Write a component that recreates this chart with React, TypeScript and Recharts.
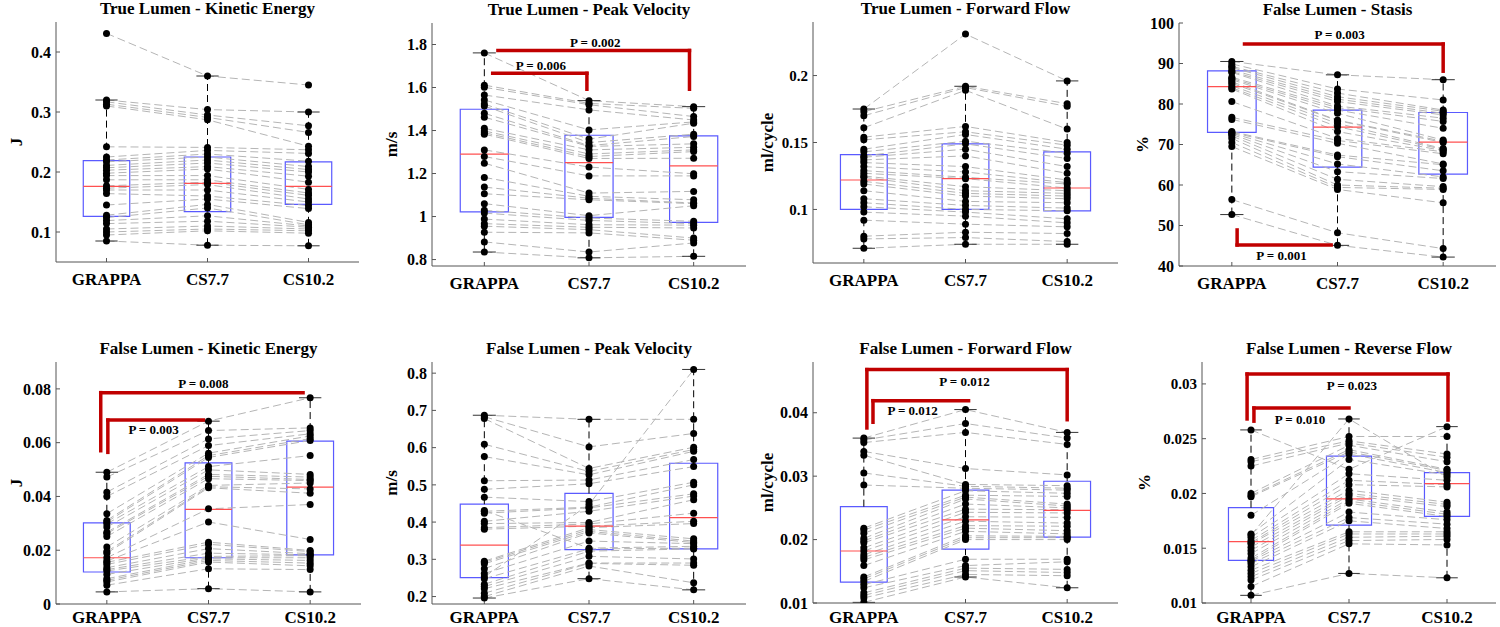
import React from "react";
import {
  ComposedChart,
  Line,
  Scatter,
  XAxis,
  YAxis,
  ReferenceArea,
  ReferenceLine,
  ReferenceDot,
} from "recharts";

const FONT = "'Liberation Serif', 'Times New Roman', serif";
const groups = ["GRAPPA", "CS7.7", "CS10.2"];

// True Lumen - Kinetic Energy (J)
const tlKeGrappa = [0.431, 0.32, 0.317, 0.313, 0.31, 0.242, 0.225, 0.22, 0.217, 0.211, 0.207, 0.203, 0.198, 0.194, 0.187, 0.177, 0.173, 0.17, 0.164, 0.145, 0.128, 0.124, 0.119, 0.114, 0.105, 0.1, 0.095, 0.085];
const tlKeCs77 = [0.36, 0.304, 0.295, 0.291, 0.287, 0.241, 0.236, 0.23, 0.225, 0.22, 0.215, 0.209, 0.205, 0.194, 0.187, 0.183, 0.179, 0.17, 0.16, 0.155, 0.146, 0.14, 0.127, 0.118, 0.11, 0.105, 0.102, 0.078];
const tlKeCs102 = [0.345, 0.3, 0.277, 0.266, 0.243, 0.237, 0.231, 0.218, 0.209, 0.204, 0.2, 0.193, 0.183, 0.171, 0.165, 0.161, 0.155, 0.15, 0.144, 0.139, 0.116, 0.112, 0.11, 0.108, 0.105, 0.102, 0.098, 0.077];
const tlKeBox = [[0.126, 0.176, 0.219], [0.134, 0.181, 0.225], [0.146, 0.176, 0.217]];

// True Lumen - Peak Velocity (m/s)
const tlPvGrappa = [1.761, 1.611, 1.601, 1.565, 1.542, 1.523, 1.514, 1.48, 1.462, 1.41, 1.398, 1.39, 1.383, 1.31, 1.279, 1.248, 1.182, 1.137, 1.106, 1.06, 1.029, 1.016, 0.988, 0.967, 0.955, 0.927, 0.882, 0.835];
const tlPvCs77 = [1.539, 1.526, 1.52, 1.496, 1.403, 1.36, 1.344, 1.33, 1.326, 1.31, 1.291, 1.279, 1.27, 1.23, 1.189, 1.109, 1.094, 1.085, 1.078, 1.004, 0.993, 0.982, 0.962, 0.95, 0.939, 0.924, 0.835, 0.808];
const tlPvCs102 = [1.511, 1.503, 1.465, 1.449, 1.44, 1.434, 1.383, 1.372, 1.338, 1.322, 1.31, 1.302, 1.271, 1.199, 1.189, 1.117, 1.078, 1.063, 1.06, 1.05, 0.978, 0.967, 0.96, 0.947, 0.9, 0.89, 0.877, 0.815];
const tlPvBox = [[1.022, 1.29, 1.499], [0.996, 1.251, 1.378], [0.973, 1.236, 1.375]];

// True Lumen - Forward Flow (ml/cycle)
const tlFfGrappa = [0.175, 0.173, 0.17, 0.161, 0.154, 0.152, 0.145, 0.143, 0.14, 0.139, 0.137, 0.135, 0.132, 0.129, 0.127, 0.125, 0.124, 0.121, 0.119, 0.114, 0.108, 0.105, 0.102, 0.098, 0.092, 0.08, 0.078, 0.071];
const tlFfCs77 = [0.231, 0.192, 0.191, 0.189, 0.162, 0.158, 0.156, 0.151, 0.149, 0.145, 0.14, 0.132, 0.128, 0.124, 0.123, 0.117, 0.114, 0.112, 0.11, 0.106, 0.103, 0.1, 0.098, 0.095, 0.089, 0.083, 0.079, 0.074];
const tlFfCs102 = [0.196, 0.179, 0.177, 0.16, 0.15, 0.148, 0.145, 0.142, 0.138, 0.132, 0.127, 0.122, 0.12, 0.119, 0.116, 0.114, 0.112, 0.11, 0.108, 0.105, 0.101, 0.099, 0.093, 0.09, 0.087, 0.082, 0.076, 0.074];
const tlFfBox = [[0.1, 0.122, 0.141], [0.1, 0.123, 0.149], [0.099, 0.116, 0.143]];

// False Lumen - Stasis (%)
const flStGrappa = [90.5, 89.9, 89.3, 89.0, 88.4, 88.0, 87.8, 86.6, 86.3, 86.0, 85.5, 85.1, 84.5, 84.0, 83.7, 80.6, 76.7, 76.2, 73.2, 73.0, 72.8, 72.5, 72.1, 71.5, 70.5, 69.5, 56.4, 52.7];
const flStCs77 = [87.2, 83.7, 82.7, 81.8, 81.2, 80.6, 79.5, 79.1, 78.5, 77.7, 76.0, 75.9, 75.2, 74.4, 73.2, 71.5, 71.0, 70.3, 67.4, 67.0, 65.2, 63.3, 61.4, 60.0, 59.4, 58.9, 48.2, 45.1];
const flStCs102 = [86.0, 81.0, 78.5, 78.2, 77.7, 77.3, 76.5, 75.7, 74.0, 71.1, 70.8, 70.5, 69.0, 68.8, 68.5, 68.2, 67.7, 65.2, 65.0, 63.5, 62.0, 61.6, 59.6, 59.2, 58.9, 55.6, 44.3, 42.2];
const flStBox = [[73, 84.3, 88.2], [64.4, 74.3, 78.5], [62.7, 70.6, 77.9]];

// False Lumen - Kinetic Energy (J)
const flKeGrappa = [0.049, 0.0472, 0.0416, 0.04, 0.0336, 0.0311, 0.0305, 0.0298, 0.0286, 0.0267, 0.0262, 0.0251, 0.0212, 0.0195, 0.0189, 0.0172, 0.016, 0.0155, 0.0147, 0.0135, 0.0128, 0.0123, 0.011, 0.0094, 0.0088, 0.0082, 0.007, 0.0045];
const flKeCs77 = [0.068, 0.0645, 0.0614, 0.0589, 0.0561, 0.0552, 0.0545, 0.0511, 0.0499, 0.0482, 0.0475, 0.0466, 0.0441, 0.0436, 0.0432, 0.0354, 0.0305, 0.023, 0.0222, 0.0206, 0.0189, 0.0177, 0.0172, 0.0168, 0.0162, 0.0156, 0.0131, 0.0057];
const flKeCs102 = [0.0767, 0.0655, 0.0645, 0.0633, 0.0625, 0.0615, 0.0608, 0.0552, 0.0482, 0.0472, 0.0463, 0.0459, 0.045, 0.0428, 0.0412, 0.037, 0.024, 0.0199, 0.0195, 0.0187, 0.0183, 0.018, 0.0172, 0.0162, 0.0152, 0.0142, 0.0128, 0.0045];
const flKeBox = [[0.0119, 0.0172, 0.0302], [0.0172, 0.0352, 0.0525], [0.0183, 0.0435, 0.0606]];

// False Lumen - Peak Velocity (m/s)
const flPvGrappa = [0.687, 0.683, 0.678, 0.609, 0.576, 0.511, 0.488, 0.467, 0.253, 0.429, 0.424, 0.402, 0.396, 0.385, 0.381, 0.295, 0.292, 0.288, 0.275, 0.262, 0.431, 0.248, 0.233, 0.227, 0.221, 0.209, 0.2, 0.196];
const flPvCs77 = [0.676, 0.602, 0.544, 0.536, 0.527, 0.513, 0.503, 0.455, 0.447, 0.44, 0.438, 0.429, 0.399, 0.395, 0.389, 0.385, 0.38, 0.375, 0.371, 0.349, 0.33, 0.328, 0.322, 0.308, 0.29, 0.289, 0.282, 0.248];
const flPvCs102 = [0.676, 0.638, 0.601, 0.595, 0.59, 0.568, 0.549, 0.507, 0.81, 0.5, 0.476, 0.47, 0.46, 0.424, 0.402, 0.396, 0.355, 0.349, 0.345, 0.342, 0.335, 0.33, 0.328, 0.301, 0.29, 0.284, 0.237, 0.218];
const flPvBox = [[0.251, 0.338, 0.448], [0.326, 0.389, 0.477], [0.328, 0.412, 0.558]];

// False Lumen - Forward Flow (ml/cycle)
const flFfGrappa = [0.036, 0.0357, 0.0353, 0.0339, 0.0333, 0.0305, 0.0286, 0.0218, 0.0215, 0.021, 0.0202, 0.0198, 0.0195, 0.0187, 0.0182, 0.0176, 0.0172, 0.0168, 0.0159, 0.0141, 0.0138, 0.0134, 0.0129, 0.0124, 0.0116, 0.0112, 0.0108, 0.0101];
const flFfCs77 = [0.0405, 0.0383, 0.0369, 0.0312, 0.0287, 0.0284, 0.0281, 0.0277, 0.027, 0.0267, 0.0264, 0.0256, 0.0248, 0.0243, 0.0236, 0.0229, 0.0222, 0.0218, 0.0213, 0.0206, 0.0203, 0.02, 0.0169, 0.0159, 0.0155, 0.0151, 0.0145, 0.0141];
const flFfCs102 = [0.0369, 0.036, 0.035, 0.0302, 0.0285, 0.0281, 0.0278, 0.0273, 0.0268, 0.0256, 0.0253, 0.025, 0.0247, 0.0242, 0.0235, 0.0226, 0.0221, 0.0214, 0.0209, 0.0205, 0.0203, 0.02, 0.0169, 0.0165, 0.0153, 0.0148, 0.0143, 0.0124];
const flFfBox = [[0.0133, 0.0182, 0.0252], [0.0185, 0.0231, 0.0278], [0.0204, 0.0246, 0.0292]];

// False Lumen - Reverse Flow (%)
const flRfGrappa = [0.0258, 0.0231, 0.0229, 0.0225, 0.02, 0.0198, 0.0197, 0.018, 0.0163, 0.0162, 0.016, 0.0157, 0.0155, 0.0154, 0.0151, 0.0148, 0.0145, 0.0141, 0.0139, 0.0138, 0.0136, 0.0133, 0.013, 0.0127, 0.0124, 0.0121, 0.0115, 0.0107];
const flRfCs77 = [0.0222, 0.0252, 0.0248, 0.0246, 0.0244, 0.024, 0.0238, 0.0236, 0.0231, 0.0268, 0.0218, 0.0212, 0.0208, 0.0203, 0.02, 0.0198, 0.0195, 0.0193, 0.0191, 0.0183, 0.0178, 0.0175, 0.0165, 0.0163, 0.016, 0.0157, 0.0154, 0.0127];
const flRfCs102 = [0.0261, 0.0252, 0.0236, 0.0233, 0.0229, 0.0222, 0.0221, 0.0219, 0.0217, 0.0215, 0.0212, 0.0208, 0.0206, 0.0192, 0.019, 0.0188, 0.0183, 0.0181, 0.0179, 0.0176, 0.0172, 0.0168, 0.0165, 0.0163, 0.0161, 0.0158, 0.0153, 0.0123];
const flRfBox = [[0.0139, 0.0156, 0.0187], [0.0171, 0.0195, 0.0234], [0.0179, 0.0209, 0.0219]];

type Bracket = { pts: number[][]; label: string; at: number[] };

const panels = [
  {
    title: "True Lumen - Kinetic Energy", unit: "J",
    values: [tlKeGrappa, tlKeCs77, tlKeCs102], boxes: tlKeBox,
    domain: [0.05, 0.45], ticks: [0.1, 0.2, 0.3, 0.4],
    rect: { l: 56, t: 22, r: 359, b: 262 }, unitX: 16, tickFont: 16, xGap: 15,
    brackets: [] as Bracket[],
  },
  {
    title: "True Lumen - Peak Velocity", unit: "m/s",
    values: [tlPvGrappa, tlPvCs77, tlPvCs102], boxes: tlPvBox,
    domain: [0.77, 1.9], ticks: [0.8, 1, 1.2, 1.4, 1.6, 1.8],
    rect: { l: 432, t: 23, r: 746, b: 266 }, unitX: 391, tickFont: 16, xGap: 15,
    brackets: [
      { pts: [[1.08, 1.666], [1.98, 1.666], [1.98, 1.592]], label: "P = 0.006", at: [1.54, 1.703] },
      { pts: [[1.13, 1.772], [2.96, 1.772], [2.96, 1.592]], label: "P = 0.002", at: [2.06, 1.809] },
    ],
  },
  {
    title: "True Lumen - Forward Flow", unit: "ml/cycle",
    values: [tlFfGrappa, tlFfCs77, tlFfCs102], boxes: tlFfBox,
    domain: [0.06, 0.24], ticks: [0.1, 0.15, 0.2],
    rect: { l: 813, t: 22, r: 1118, b: 263 }, unitX: 767, tickFont: 15, xGap: 15,
    brackets: [] as Bracket[],
  },
  {
    title: "False Lumen - Stasis", unit: "%",
    values: [flStGrappa, flStCs77, flStCs102], boxes: flStBox,
    domain: [40, 100], ticks: [40, 50, 60, 70, 80, 90, 100],
    rect: { l: 1179, t: 23, r: 1496, b: 266 }, unitX: 1142, tickFont: 16, xGap: 15,
    brackets: [
      { pts: [[1.12, 94.8], [3.0, 94.8], [3.0, 88.1]], label: "P = 0.003", at: [2.02, 97.3] },
      { pts: [[1.05, 48.9], [1.05, 45.2], [1.94, 45.2]], label: "P = 0.001", at: [1.47, 42.5] },
    ],
  },
  {
    title: "False Lumen - Kinetic Energy", unit: "J",
    values: [flKeGrappa, flKeCs77, flKeCs102], boxes: flKeBox,
    domain: [0, 0.09], ticks: [0, 0.02, 0.04, 0.06, 0.08],
    rect: { l: 56, t: 362, r: 361, b: 604 }, unitX: 16, tickFont: 16, xGap: 11,
    brackets: [
      { pts: [[0.94, 0.057], [0.94, 0.0786], [2.93, 0.0786]], label: "P = 0.008", at: [1.95, 0.0819] },
      { pts: [[1.01, 0.0564], [1.01, 0.0684], [1.95, 0.0684]], label: "P = 0.003", at: [1.46, 0.0648] },
    ],
  },
  {
    title: "False Lumen - Peak Velocity", unit: "m/s",
    values: [flPvGrappa, flPvCs77, flPvCs102], boxes: flPvBox,
    domain: [0.18, 0.83], ticks: [0.2, 0.3, 0.4, 0.5, 0.6, 0.7, 0.8],
    rect: { l: 432, t: 362, r: 746, b: 604 }, unitX: 391, tickFont: 16, xGap: 11,
    brackets: [] as Bracket[],
  },
  {
    title: "False Lumen - Forward Flow", unit: "ml/cycle",
    values: [flFfGrappa, flFfCs77, flFfCs102], boxes: flFfBox,
    domain: [0.01, 0.048], ticks: [0.01, 0.02, 0.03, 0.04],
    rect: { l: 813, t: 362, r: 1118, b: 603 }, unitX: 767, tickFont: 16, xGap: 12,
    brackets: [
      { pts: [[1.03, 0.0376], [1.03, 0.0468], [3.0, 0.0468], [3.0, 0.0389]], label: "P = 0.012", at: [1.99, 0.0449] },
      { pts: [[1.09, 0.0385], [1.09, 0.0419], [2.03, 0.0419]], label: "P = 0.012", at: [1.48, 0.0404] },
    ],
  },
  {
    title: "False Lumen - Reverse Flow", unit: "%",
    values: [flRfGrappa, flRfCs77, flRfCs102], boxes: flRfBox,
    domain: [0.01, 0.032], ticks: [0.01, 0.015, 0.02, 0.025, 0.03],
    rect: { l: 1202, t: 362, r: 1496, b: 603 }, unitX: 1144, tickFont: 15, xGap: 12,
    brackets: [
      { pts: [[0.96, 0.0268], [0.96, 0.0309], [3.01, 0.0309], [3.01, 0.0267]], label: "P = 0.023", at: [2.03, 0.0299] },
      { pts: [[1.03, 0.0266], [1.03, 0.0278], [2.0, 0.0278]], label: "P = 0.010", at: [1.5, 0.0268] },
    ],
  },
];

// whisker ends: most extreme values within 1.5 IQR of the box
function whiskers(vals: number[], box: number[]) {
  const iqr = box[2] - box[0];
  const hi = Math.max(...vals.filter((v) => v <= box[2] + 1.5 * iqr));
  const lo = Math.min(...vals.filter((v) => v >= box[0] - 1.5 * iqr));
  return [lo, hi];
}

const AXIS = "#555";
const Y_W = 70;

function Panel({ p }: { p: (typeof panels)[number] }) {
  const { l, t, r, b } = p.rect;
  const width = r - l + Y_W + 10;
  const height = b - t + 10 + 40;

  const rows = [1, 2, 3].map((x, gi) => {
    const o: any = { x };
    p.values[gi].forEach((v, i) => (o["s" + i] = v));
    return o;
  });
  const pts = p.values.flatMap((vals, gi) => vals.map((v) => ({ x: gi + 1, y: v })));

  const boxEls = p.boxes.flatMap((box, gi) => {
    const x = gi + 1;
    const [lo, hi] = whiskers(p.values[gi], box);
    return [
      <ReferenceLine key={`wu${gi}`} segment={[{ x, y: box[2] }, { x, y: hi }]} stroke="#000" strokeDasharray="7 4" ifOverflow="visible" />,
      <ReferenceLine key={`wl${gi}`} segment={[{ x, y: lo }, { x, y: box[0] }]} stroke="#000" strokeDasharray="7 4" ifOverflow="visible" />,
      <ReferenceLine key={`cu${gi}`} segment={[{ x: x - 0.11, y: hi }, { x: x + 0.11, y: hi }]} stroke="#333" ifOverflow="visible" />,
      <ReferenceLine key={`cl${gi}`} segment={[{ x: x - 0.11, y: lo }, { x: x + 0.11, y: lo }]} stroke="#333" ifOverflow="visible" />,
      <ReferenceArea key={`b${gi}`} x1={x - 0.23} x2={x + 0.23} y1={box[0]} y2={box[2]} fill="none" fillOpacity={0} stroke="#5a5aff" strokeWidth={1.2} ifOverflow="visible" />,
      <ReferenceLine key={`m${gi}`} segment={[{ x: x - 0.23, y: box[1] }, { x: x + 0.23, y: box[1] }]} stroke="#ff5050" strokeWidth={1.2} ifOverflow="visible" />,
    ];
  });

  const bracketEls = p.brackets.flatMap((br, bi) => [
    ...br.pts.slice(1).map((pt, si) => (
      <ReferenceLine
        key={`br${bi}-${si}`}
        segment={[{ x: br.pts[si][0], y: br.pts[si][1] }, { x: pt[0], y: pt[1] }]}
        stroke="#c00000"
        strokeWidth={3.5}
        strokeLinecap="square"
        ifOverflow="visible"
      />
    )),
    <ReferenceDot
      key={`bl${bi}`}
      x={br.at[0]}
      y={br.at[1]}
      r={0}
      fill="none"
      stroke="none"
      ifOverflow="visible"
      label={{ value: br.label, position: "center", fill: "#000", style: { fontWeight: "bold", fontSize: 13, fontFamily: FONT } }}
    />,
  ]);

  return (
    <>
      <div
        style={{
          position: "absolute", left: l, top: t - 22, width: r - l, textAlign: "center",
          fontFamily: FONT, fontWeight: "bold", fontSize: 17, lineHeight: "17px", whiteSpace: "nowrap",
        }}
      >
        {p.title}
      </div>
      <div style={{ position: "absolute", left: l - Y_W, top: t - 10 }}>
        <ComposedChart width={width} height={height} data={rows} margin={{ top: 10, right: 10, left: 0, bottom: 0 }}>
          <XAxis
            dataKey="x" type="number" domain={[0.5, 3.5]} ticks={[1, 2, 3]} interval={0}
            tickFormatter={(v: number) => groups[v - 1]} height={40} tickSize={-4} tickMargin={p.xGap}
            axisLine={{ stroke: AXIS }} tickLine={{ stroke: AXIS }}
            tick={{ fill: "#000", fontSize: 17, fontWeight: "bold", fontFamily: FONT }}
          />
          <XAxis
            xAxisId="t" orientation="top" type="number" domain={[0.5, 3.5]} ticks={[1, 2, 3]} interval={0}
            height={0} tickSize={-4} tick={false} axisLine={{ stroke: AXIS }} tickLine={{ stroke: AXIS }}
          />
          <YAxis
            type="number" domain={p.domain} ticks={p.ticks} interval={0} allowDataOverflow
            width={Y_W} tickSize={-4} tickMargin={9} tickFormatter={(v: number) => String(v)}
            axisLine={{ stroke: AXIS }} tickLine={{ stroke: AXIS }}
            tick={{ fill: "#000", fontSize: p.tickFont, fontWeight: "bold", fontFamily: FONT }}
            label={{
              value: p.unit, angle: -90, position: "insideLeft", offset: p.unitX - (l - Y_W),
              style: { textAnchor: "middle", fontWeight: "bold", fontSize: 17, fill: "#000", fontFamily: FONT },
            }}
          />
          <YAxis
            yAxisId="r" orientation="right" type="number" domain={p.domain} ticks={p.ticks} interval={0}
            allowDataOverflow width={0} tickSize={-4} tick={false}
            axisLine={{ stroke: AXIS }} tickLine={{ stroke: AXIS }}
          />
          {p.values[0].map((_, i) => (
            <Line
              key={`s${i}`} dataKey={"s" + i} type="linear" stroke="#b5b5b5" strokeWidth={1}
              strokeDasharray="8 4" dot={false} activeDot={false} isAnimationActive={false}
            />
          ))}
          {boxEls}
          <Scatter
            data={pts} dataKey="y" isAnimationActive={false}
            shape={(s: any) => <circle cx={s.cx} cy={s.cy} r={3.5} fill="#000" />}
          />
          {bracketEls}
        </ComposedChart>
      </div>
    </>
  );
}

export default function App() {
  return (
    <div
      style={{
        position: "absolute", left: 0, top: 0, width: 1500, height: 627,
        overflow: "hidden", background: "#fff",
      }}
    >
      {panels.map((p, i) => (
        <Panel key={i} p={p} />
      ))}
    </div>
  );
}
